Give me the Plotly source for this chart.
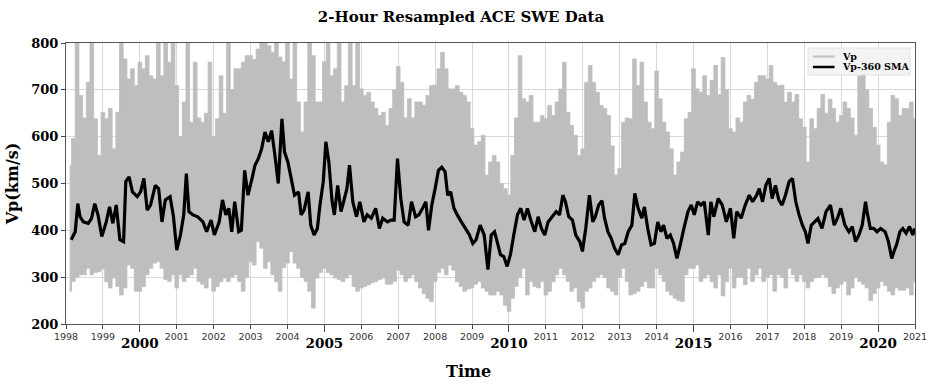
import numpy as np
import plotly.graph_objects as go

# ---------------- data ----------------
# Vp (2-hour data): upper / lower extent of the grey trace, sampled every 0.1 yr from 1998.1
vp_start_year = 1998.1
vp_step = 0.1
vp_high = [
    539, 596, 800, 688, 640, 716, 800, 638, 560,
    652, 638, 660, 574, 652, 800, 766, 723, 745, 709,
    759, 745, 773, 730, 723, 800, 730, 800, 759, 800,
    709, 600, 674, 800, 631, 759, 640, 631, 650, 759,
    600, 638, 730, 650, 800, 700, 745, 745, 759, 773,
    773, 765, 787, 800, 800, 794, 780, 800, 770, 760,
    800, 723, 800, 674, 610, 674, 800, 773, 674, 674,
    760, 800, 730, 745, 800, 674, 709, 800, 709, 800,
    702, 688, 695, 674, 660, 645, 652, 624, 660, 700,
    750, 716, 640, 681, 640, 674, 674, 667, 688, 709,
    710, 745, 780, 745, 702, 702, 709, 695, 688, 674,
    617, 582, 589, 603, 518, 546, 560, 546, 500, 489,
    475, 560, 640, 773, 681, 674, 688, 631, 631, 645,
    638, 667, 645, 674, 702, 759, 652, 624, 603, 560,
    574, 716, 752, 716, 695, 667, 660, 645, 580, 518,
    532, 631, 640, 638, 766, 709, 759, 674, 631, 617,
    740, 681, 631, 610, 574, 518, 546, 567, 638, 652,
    745, 702, 695, 730, 688, 720, 752, 690, 769, 700,
    617, 610, 640, 631, 674, 688, 680, 716, 730, 730,
    723, 752, 716, 709, 710, 674, 695, 674, 690, 638,
    620, 546, 638, 617, 660, 690, 650, 680, 660, 631,
    645, 674, 660, 640, 603, 730, 735, 700, 660, 620,
    582, 546, 540, 631, 688, 681, 645, 660, 660, 674,
    638,
]
vp_low = [
    270, 291, 300, 305, 305, 319, 305, 310, 312,
    318, 290, 277, 298, 280, 262, 277, 326, 319, 270,
    270, 280, 305, 319, 330, 333, 319, 295, 291, 305,
    277, 305, 291, 300, 305, 319, 291, 285, 277, 298,
    270, 280, 290, 298, 291, 300, 305, 291, 270, 300,
    333, 326, 376, 362, 319, 333, 305, 290, 270, 320,
    330, 355, 330, 319, 300, 291, 270, 234, 298, 310,
    319, 310, 305, 298, 295, 291, 298, 305, 280, 270,
    277, 280, 284, 288, 291, 295, 298, 285, 285, 291,
    315, 305, 291, 298, 305, 290, 277, 265, 255, 248,
    291, 310, 319, 305, 326, 315, 290, 280, 270, 275,
    277, 285, 291, 277, 270, 262, 262, 270, 262, 240,
    227, 255, 280, 300, 319, 262, 291, 280, 277, 291,
    262, 270, 290, 305, 319, 305, 291, 270, 277, 248,
    234, 270, 277, 291, 300, 305, 300, 277, 270, 262,
    300, 319, 291, 262, 265, 270, 280, 291, 277, 277,
    319, 305, 291, 270, 262, 255, 250, 248, 305, 319,
    319, 326, 291, 298, 305, 290, 277, 305, 260, 290,
    319, 277, 300, 300, 284, 319, 291, 305, 319, 291,
    300, 305, 270, 305, 300, 277, 319, 305, 291, 305,
    291, 277, 291, 298, 300, 305, 300, 280, 265, 277,
    285, 291, 262, 277, 300, 291, 285, 277, 250, 265,
    277, 291, 282, 270, 262, 277, 272, 272, 277, 262,
    290,
]

# Vp-360 SMA
sma_years = [
    1998.14, 1998.25, 1998.32, 1998.38, 1998.47, 1998.60, 1998.69, 1998.78, 1998.87, 1998.97,
    1999.09, 1999.18, 1999.27, 1999.36, 1999.46, 1999.56, 1999.62, 1999.71, 1999.80, 1999.93,
    2000.02, 2000.11, 2000.20, 2000.29, 2000.42, 2000.51, 2000.60, 2000.69, 2000.82, 2000.91,
    2001.00, 2001.10, 2001.19, 2001.26, 2001.33, 2001.44, 2001.57, 2001.71, 2001.81, 2001.93,
    2002.02, 2002.15, 2002.24, 2002.33, 2002.41, 2002.49, 2002.57, 2002.68, 2002.75, 2002.84, 2002.93,
    2003.04, 2003.12, 2003.21, 2003.30, 2003.39, 2003.48, 2003.57, 2003.66, 2003.75, 2003.85, 2003.92,
    2004.01, 2004.10, 2004.19, 2004.30, 2004.37, 2004.45, 2004.56, 2004.63, 2004.72, 2004.81, 2004.88, 2004.97,
    2005.04, 2005.12, 2005.21, 2005.27, 2005.36, 2005.45, 2005.52, 2005.61, 2005.68, 2005.77, 2005.87, 2005.96,
    2006.07, 2006.16, 2006.27, 2006.39, 2006.49, 2006.58, 2006.71, 2006.80, 2006.89, 2006.98,
    2007.07, 2007.16, 2007.27, 2007.36, 2007.47, 2007.56, 2007.66, 2007.75, 2007.82, 2007.91,
    2008.00, 2008.09, 2008.18, 2008.27, 2008.34, 2008.42, 2008.51, 2008.60, 2008.71, 2008.82, 2008.93,
    2009.02, 2009.11, 2009.22, 2009.33, 2009.43, 2009.52, 2009.61, 2009.68, 2009.77, 2009.86, 2009.95,
    2010.04, 2010.13, 2010.23, 2010.32, 2010.41, 2010.50, 2010.59, 2010.70, 2010.79, 2010.88, 2010.97,
    2011.06, 2011.17, 2011.28, 2011.37, 2011.46, 2011.53, 2011.62, 2011.72, 2011.81, 2011.92, 2011.99,
    2012.08, 2012.18, 2012.27, 2012.34, 2012.43, 2012.52, 2012.59, 2012.68, 2012.77, 2012.86, 2012.96,
    2013.05, 2013.14, 2013.23, 2013.33, 2013.41, 2013.50, 2013.60, 2013.67, 2013.76, 2013.85, 2013.94,
    2014.03, 2014.12, 2014.19, 2014.28, 2014.37, 2014.46, 2014.55, 2014.64, 2014.74, 2014.85, 2014.94,
    2015.02, 2015.11, 2015.20, 2015.29, 2015.40, 2015.47, 2015.55, 2015.67, 2015.78, 2015.89,
    2016.00, 2016.09, 2016.17, 2016.29, 2016.40, 2016.51, 2016.60, 2016.71, 2016.78, 2016.87, 2016.96,
    2017.05, 2017.13, 2017.22, 2017.31, 2017.40, 2017.49, 2017.59, 2017.68, 2017.77, 2017.86, 2017.95,
    2018.03, 2018.10, 2018.19, 2018.28, 2018.37, 2018.48, 2018.59, 2018.71, 2018.81, 2018.90, 2018.99,
    2019.10, 2019.21, 2019.30, 2019.39, 2019.48, 2019.57, 2019.66, 2019.70, 2019.79, 2019.88, 2019.97,
    2020.07, 2020.19, 2020.28, 2020.37, 2020.43, 2020.50, 2020.59, 2020.67, 2020.76, 2020.85, 2020.94, 2020.99,
]
sma_values = [
    380, 397, 457, 429, 418, 415, 425, 457, 432, 387,
    418, 450, 415, 454, 380, 376, 504, 514, 482, 472,
    482, 511, 443, 454, 496, 489, 418, 465, 472, 430,
    358, 390, 433, 521, 440, 433, 429, 418, 397, 422,
    390, 418, 465, 433, 447, 397, 461, 397, 400, 528, 475,
    511, 539, 553, 574, 610, 589, 613, 560, 500, 638, 567,
    546, 511, 475, 482, 433, 443, 482, 411, 390, 404, 454, 504,
    589, 546, 461, 433, 496, 440, 461, 489, 539, 461, 429, 461,
    418, 433, 426, 447, 404, 426, 418, 422, 422, 553,
    468, 418, 411, 461, 429, 433, 447, 461, 400, 454,
    489, 528, 535, 525, 475, 482, 447, 433, 418, 404, 390,
    372, 380, 411, 390, 316, 390, 397, 376, 348, 344, 323,
    348, 390, 433, 447, 422, 447, 422, 397, 429, 404, 390,
    418, 429, 440, 433, 475, 461, 429, 422, 390, 376, 355,
    404, 475, 418, 429, 454, 463, 426, 397, 383, 362, 348,
    369, 372, 397, 411, 479, 447, 426, 450, 404, 369, 372,
    418, 397, 411, 383, 390, 372, 340, 369, 404, 440, 454,
    433, 461, 454, 461, 390, 461, 429, 468, 454, 418,
    447, 383, 440, 426, 454, 475, 461, 475, 489, 461, 496,
    511, 468, 496, 465, 454, 475, 504, 511, 461, 433, 411,
    397, 372, 411, 418, 425, 404, 440, 454, 411, 426, 447,
    411, 397, 408, 376, 390, 411, 461, 440, 404, 404, 397,
    404, 397, 376, 340, 355, 369, 397, 404, 394, 408, 390, 404,
]

year_ticks = list(range(1998, 2022))
major_years = [2000, 2005, 2010, 2015, 2020]
legend_labels = ["Vp", "Vp-360 SMA"]

assert len(vp_high) == len(vp_low)
assert len(sma_years) == len(sma_values)

GREY = "#bebebe"
SERIF = "DejaVu Serif"
SANS = "DejaVu Sans"

# ---------------- build traces ----------------
vp_years = np.round(vp_start_year + vp_step * np.arange(len(vp_high)), 2)
vp_high_arr = np.asarray(vp_high, dtype=float)
vp_low_arr = np.asarray(vp_low, dtype=float)

# grey Vp: the area swept by the 2-hour trace (upper extent forward, lower extent back),
# drawn with step edges so every sample shows up as a vertical column like the dense raw trace
band_x = np.concatenate([vp_years, vp_years[::-1]])
band_y = np.concatenate([vp_high_arr, vp_low_arr[::-1]])

fig = go.Figure()
fig.add_trace(go.Scatter(
    x=band_x, y=band_y, mode="lines", name=legend_labels[0],
    fill="toself", fillcolor=GREY,
    line=dict(color=GREY, width=0.8, shape="hvh", simplify=False),
    showlegend=False, hoverinfo="skip",
))
fig.add_trace(go.Scatter(
    x=sma_years, y=sma_values, mode="lines", name=legend_labels[1],
    line=dict(color="black", width=3.2, simplify=False), showlegend=False,
))
# helper trace so that the overlaid axis carrying the bold 5-year labels is drawn
fig.add_trace(go.Scatter(
    x=[major_years[0]], y=[500], xaxis="x2", mode="markers",
    marker=dict(opacity=0), showlegend=False, hoverinfo="skip",
))

minor_text = ["" if y in major_years else str(y) for y in year_ticks]

# ---- legend box (drawn in paper coordinates) ----
PL, PW, PT, PH = 59, 865, 43, 281
def px(X):
    return (X - PL) / PW
def py(Y):
    return (PT + PH - Y) / PH

shapes = [
    dict(type="rect", xref="paper", yref="paper", x0=px(815), x1=px(919), y0=py(75), y1=py(48),
         fillcolor="rgba(242,242,242,0.93)", line=dict(color="#e2e2e2", width=1), layer="above"),
    dict(type="line", xref="paper", yref="paper", x0=px(820), x1=px(842), y0=py(56.5), y1=py(56.5),
         line=dict(color=GREY, width=2), layer="above"),
    dict(type="line", xref="paper", yref="paper", x0=px(820), x1=px(842), y0=py(67), y1=py(67),
         line=dict(color="black", width=2.5), layer="above"),
]
annotations = [
    dict(text=legend_labels[0], xref="paper", yref="paper", x=px(848), y=py(56.5),
         xanchor="left", yanchor="middle", showarrow=False,
         font=dict(family=SERIF, size=9.5, color="black", weight="bold")),
    dict(text=legend_labels[1], xref="paper", yref="paper", x=px(848), y=py(67),
         xanchor="left", yanchor="middle", showarrow=False,
         font=dict(family=SERIF, size=9.5, color="black", weight="bold")),
    dict(text="Time", xref="paper", yref="paper", x=px(469), y=py(371),
         xanchor="center", yanchor="middle", showarrow=False,
         font=dict(family=SERIF, size=16, color="black", weight="bold")),
]

fig.update_layout(
    width=939, height=385,
    margin=dict(l=59, r=15, t=43, b=61),
    paper_bgcolor="white", plot_bgcolor="white",
    title=dict(
        text="2-Hour Resampled ACE SWE Data",
        font=dict(family=SERIF, size=15, color="black", weight="bold"),
        x=461 / 939, xref="container", xanchor="center",
        y=1 - 17 / 385, yref="container", yanchor="middle",
    ),
    xaxis=dict(
        range=[1998, 2021], tickmode="array", tickvals=year_ticks, ticktext=minor_text,
        ticks="outside", ticklen=4, tickcolor="#444",
        tickfont=dict(family=SANS, size=9.5, color="#333"),
        showgrid=True, gridcolor="#d9d9d9", gridwidth=1,
        showline=True, linecolor="#555", linewidth=1, mirror=True, zeroline=False,
    ),
    xaxis2=dict(
        range=[1998, 2021], overlaying="x", anchor="y", side="bottom",
        tickmode="array", tickvals=major_years, ticktext=[str(y) for y in major_years],
        ticks="outside", ticklen=7, tickcolor="#444",
        tickfont=dict(family=SERIF, size=13.5, color="black", weight="bold"),
        showgrid=False, showline=False, zeroline=False,
    ),
    yaxis=dict(
        range=[200, 800], tickmode="linear", tick0=200, dtick=100,
        ticks="outside", ticklen=4, tickcolor="#444",
        tickfont=dict(family=SERIF, size=13, color="black", weight="bold"),
        showgrid=True, gridcolor="#d9d9d9", gridwidth=1,
        showline=True, linecolor="#555", linewidth=1, mirror=True, zeroline=False,
        title=dict(text="Vp(km/s)", font=dict(family=SERIF, size=16, color="black", weight="bold"),
                   standoff=8),
    ),
    shapes=shapes,
    annotations=annotations,
    showlegend=False,
)

fig.write_html("out.html")
